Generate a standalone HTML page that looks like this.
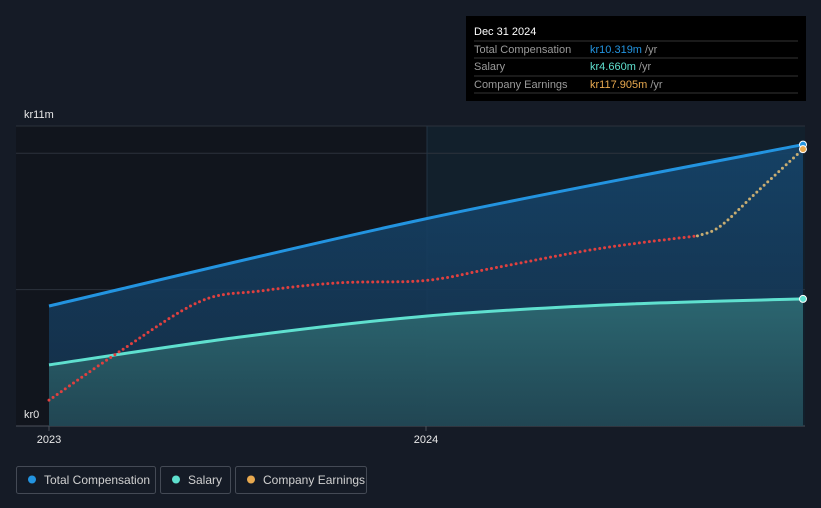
<!DOCTYPE html>
<html><head><meta charset="utf-8"><style>
body{margin:0;background:#151b26;font-family:"Liberation Sans",sans-serif;}
svg{display:block}
</style></head><body>
<svg width="821" height="508" id="chart">
<defs>
<linearGradient id="tcG" x1="0" y1="0" x2="0" y2="1"><stop offset="0" stop-color="#15446a" stop-opacity="0.9"/><stop offset="1" stop-color="#15304a" stop-opacity="0.9"/></linearGradient>
<linearGradient id="salG" x1="0" y1="0" x2="0" y2="1"><stop offset="0" stop-color="#2f6e75" stop-opacity="0.85"/><stop offset="1" stop-color="#234a55" stop-opacity="0.85"/></linearGradient>
</defs>
<rect x="16" y="126" width="411" height="300" fill="#11151d"/>
<rect x="427" y="126" width="378" height="300" fill="#12202c"/>
<g id="grid"></g>
<g id="marks"></g>
<text x="24" y="118" fill="#e8e8e8" font-size="11">kr11m</text>
<text x="24" y="418" fill="#e8e8e8" font-size="11">kr0</text>
<g id="xt"></g>
<g>
<rect x="466" y="16" width="340" height="85" fill="#000"/>
<text x="474" y="35" fill="#fff" font-size="11">Dec 31 2024</text>
<line x1="474" y1="41" x2="798" y2="41" stroke="#333"/>
<text x="474" y="53" fill="#9a9a9a" font-size="11">Total Compensation</text>
<text x="590" y="53" font-size="11"><tspan fill="#2394e0">kr10.319m</tspan><tspan fill="#9a9a9a"> /yr</tspan></text>
<line x1="474" y1="58" x2="798" y2="58" stroke="#333"/>
<text x="474" y="70" fill="#9a9a9a" font-size="11">Salary</text>
<text x="590" y="70" font-size="11"><tspan fill="#5fe0cf">kr4.660m</tspan><tspan fill="#9a9a9a"> /yr</tspan></text>
<line x1="474" y1="76" x2="798" y2="76" stroke="#333"/>
<text x="474" y="88" fill="#9a9a9a" font-size="11">Company Earnings</text>
<text x="590" y="88" font-size="11"><tspan fill="#e8a94f">kr117.905m</tspan><tspan fill="#9a9a9a"> /yr</tspan></text>
<line x1="474" y1="93" x2="798" y2="93" stroke="#333"/>
</g>
<g>
<g><rect x="16.5" y="466.5" width="139" height="27" rx="2" fill="none" stroke="#444a55"/><circle cx="32" cy="479.5" r="4" fill="#2394e0"/><text x="44" y="484" fill="#d0d0d0" font-size="12">Total Compensation</text></g>
<g><rect x="160.5" y="466.5" width="70" height="27" rx="2" fill="none" stroke="#444a55"/><circle cx="176" cy="479.5" r="4" fill="#5fe0cf"/><text x="188" y="484" fill="#d0d0d0" font-size="12">Salary</text></g>
<g><rect x="235.5" y="466.5" width="131" height="27" rx="2" fill="none" stroke="#444a55"/><circle cx="251" cy="479.5" r="4" fill="#e8a94f"/><text x="263" y="484" fill="#d0d0d0" font-size="12">Company Earnings</text></g>
</g>
</svg>
<script>
const tcDates=[2023.0,2024.0,2025.0];
const tcValues=[4.4,7.6,10.319];
const salDates=[2023.0,2023.5,2024.0,2024.5,2025.0];
const salValues=[2.24,3.25,4.03,4.45,4.66];
const earnDates=[2023.0,2023.19,2023.4,2023.56,2023.77,2024.0,2024.19,2024.46,2024.72,2024.78,2024.88,2025.0];
const earnValues=[11,32,53,57.5,61,62,67.6,75.6,81,85,100,117.905];
const yTicks=[0,5,10,11];
const xTickLabels=["2023","2024"];
const xTickDates=[2023,2024];
const NS="http://www.w3.org/2000/svg";
const x0=49,x1=803,yb=426,yt=126;
function xs(d){return x0+(d-2023)/(2025-2023)*(x1-x0);}
function ys(v){return yb-(v/11)*(yb-yt);}
function ye(v){return yb-(v/117.905)*(yb-ys(10.15));}
function mk(t,a,p){const e=document.createElementNS(NS,t);for(const k in a)e.setAttribute(k,a[k]);(p||document.getElementById('marks')).appendChild(e);return e;}
function smooth(pts){let d="M"+pts[0][0]+","+pts[0][1];for(let i=0;i<pts.length-1;i++){const p0=pts[Math.max(0,i-1)],p1=pts[i],p2=pts[i+1],p3=pts[Math.min(pts.length-1,i+2)];const c1=[p1[0]+(p2[0]-p0[0])/6,p1[1]+(p2[1]-p0[1])/6],c2=[p2[0]-(p3[0]-p1[0])/6,p2[1]-(p3[1]-p1[1])/6];d+=" C"+c1+" "+c2+" "+p2;}return d;}
const g=document.getElementById('grid');
yTicks.forEach(v=>{const l=mk('line',{x1:16,x2:805,y1:ys(v),y2:ys(v),stroke:v==0?'#4a505a':'#2c323c','stroke-width':1},g);

});
mk('line',{x1:427,x2:427,y1:126,y2:426,stroke:'#223444'},g);
const tc=tcDates.map((d,i)=>[xs(d),ys(tcValues[i])]);
const sal=salDates.map((d,i)=>[xs(d),ys(salValues[i])]);
const er=earnDates.map((d,i)=>[xs(d),ye(earnValues[i])]);
const tcA=mk('path',{d:smooth(tc)+` L${x1},${yb} L${x0},${yb} Z`,fill:'url(#tcG)'});


const sA=mk('path',{d:smooth(sal)+` L${x1},${yb} L${x0},${yb} Z`,fill:'url(#salG)'});


const tcL=mk('path',{d:smooth(tc),fill:'none',stroke:'#2394e0','stroke-width':3});


const sL=mk('path',{d:smooth(sal),fill:'none',stroke:'#5fe0cf','stroke-width':3});


const cut=8;
const eL1=mk('path',{d:smooth(er.slice(0,cut+1)),fill:'none',stroke:'#e0403f','stroke-width':3,'stroke-dasharray':'0 5','stroke-linecap':'round'});


const eL2=mk('path',{d:smooth(er.slice(cut)),fill:'none',stroke:'#c8ad72','stroke-width':3,'stroke-dasharray':'0 5','stroke-linecap':'round'});


[[tc,'#2394e0','total-compensation-end-point'],[sal,'#5fe0cf','salary-end-point'],[er,'#e8a94f','earnings-end-point']].forEach(([p,c,n])=>{const q=p[p.length-1];const e=mk('circle',{cx:q[0],cy:q[1],r:3.5,fill:c,stroke:'#fff','stroke-width':1});

});
const xt=document.getElementById('xt');
xTickDates.forEach((d,i)=>{const t=mk('text',{x:xs(d),y:443,fill:'#e8e8e8','font-size':11,'text-anchor':'middle'},xt);t.textContent=xTickLabels[i];


mk('line',{x1:xs(d),x2:xs(d),y1:426,y2:431,stroke:'#4a505a'},xt);});
</script>
</body></html>
